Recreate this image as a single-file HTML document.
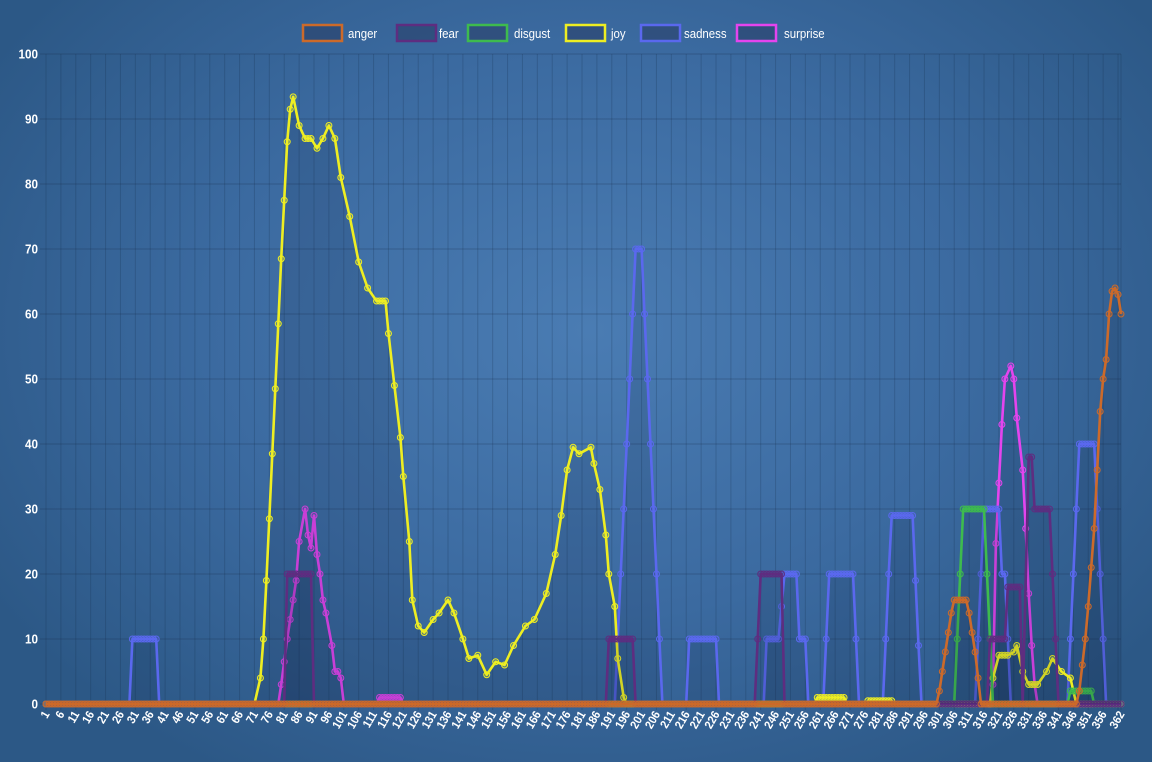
<!DOCTYPE html>
<html><head><meta charset="utf-8">
<style>
html,body{margin:0;padding:0;width:1152px;height:762px;overflow:hidden;
background:radial-gradient(ellipse 700px 520px at 590px 330px,#4a7cb3 0%,#3b6aa0 55%,#2c5886 100%);
font-family:"Liberation Sans",sans-serif;}
svg{position:absolute;left:0;top:0;}
</style></head><body>
<svg id="chart" width="1152" height="762" xmlns="http://www.w3.org/2000/svg"></svg>
<script>
const seriesNames=["anger","fear","disgust","joy","sadness","surprise"];
const colors={anger:"#cc6a2a",fear:"#5e2d80",disgust:"#3ebb4e",joy:"#eeee22",sadness:"#5a68ee",surprise:"#e444ee"};
const yTicks=[0,10,20,30,40,50,60,70,80,90,100];
const xLabels=[1,6,11,16,21,26,31,36,41,46,51,56,61,66,71,76,81,86,91,96,101,106,111,116,121,126,131,136,141,146,151,156,161,166,171,176,181,186,191,196,201,206,211,216,221,226,231,236,241,246,251,256,261,266,271,276,281,286,291,296,301,306,311,316,321,326,331,336,341,346,351,356,362];
const angerDays=[1,300,301,302,303,304,305,306,310,311,312,313,314,315,347,348,349,350,351,352,353,354,355,356,357,358,359,360,361,362];
const angerVals=[0,0,2,5,8,11,14,16,16,14,11,8,4,0,0,2,6,10,15,21,27,36,45,50,53,60,63.5,64,63,60];
const fearDays=[1,81,82,90,91,189,190,198,199,239,240,241,248,249,317,318,323,324,328,329,331,332,333,338,339,340,341,362];
const fearVals=[0,0,20,20,0,0,10,10,0,0,10,20,20,0,0,10,10,18,18,0,38,38,30,30,20,10,0,0];
const disgustDays=[1,306,307,308,309,316,317,318,319,344,345,352,353,362];
const disgustVals=[0,0,10,20,30,30,20,10,0,0,2,2,0,0];
const joyDays=[1,71,73,74,75,76,77,78,79,80,81,82,83,84,86,88,90,92,94,96,98,100,103,106,109,112,115,116,118,120,121,123,124,126,128,131,133,136,138,141,143,146,149,152,155,158,162,165,169,172,174,176,178,180,184,185,187,189,190,192,193,195,196,259,260,269,270,276,277,285,286,318,319,321,324,326,327,329,331,334,337,339,342,345,347,362];
const joyVals=[0,0,4,10,19,28.5,38.5,48.5,58.5,68.5,77.5,86.5,91.5,93.4,89,87,87,85.5,87,89,87,81,75,68,64,62,62,57,49,41,35,25,16,12,11,13,14,16,14,10,7,7.5,4.5,6.5,6,9,12,13,17,23,29,36,39.5,38.5,39.5,37,33,26,20,15,7,1,0,0,1,1,0,0,0.5,0.5,0,0,4,7.5,7.5,8,9,5,3,3,5,7,5,4,0,0];
const sadnessDays=[1,29,30,38,39,192,193,194,195,196,197,198,199,201,202,203,204,205,206,207,208,216,217,226,227,242,243,247,248,249,253,254,256,257,262,263,264,272,273,274,282,283,284,285,292,293,294,295,313,314,315,316,321,322,323,324,325,344,345,346,347,348,353,354,355,356,357,362];
const sadnessVals=[0,0,10,10,0,0,10,20,30,40,50,60,70,70,60,50,40,30,20,10,0,0,10,10,0,0,10,10,15,20,20,10,10,0,0,10,20,20,10,0,0,10,20,29,29,19,9,0,0,10,20,30,30,20,20,10,0,0,10,20,30,40,40,30,20,10,0,0];
const surpriseDays=[1,79,80,81,82,83,84,85,86,88,89,90,91,92,93,94,95,97,98,99,100,101,112,113,120,121,318,319,320,321,322,323,325,326,327,329,330,331,332,333,334,362];
const surpriseVals=[0,0,3,6.5,10,13,16,19,25,30,26,24,29,23,20,16,14,9,5,5,4,0,0,1,1,0,0,3,24.7,34,43,50,52,50,44,36,27,17,9,3,0,0];
const data={anger:[angerDays,angerVals],fear:[fearDays,fearVals],disgust:[disgustDays,disgustVals],joy:[joyDays,joyVals],sadness:[sadnessDays,sadnessVals],surprise:[surpriseDays,surpriseVals]};

const NS="http://www.w3.org/2000/svg";
const svg=document.getElementById('chart');
const L=46,R=1121,T=54,B=704,D0=1,D1=362;
function xs(d){return L+(d-D0)*(R-L)/(D1-D0);}
function ys(v){return B-v*(B-T)/100;}
function el(tag,attrs,parent){const e=document.createElementNS(NS,tag);for(const k in attrs)e.setAttribute(k,attrs[k]);(parent||svg).appendChild(e);return e;}

const grid=el('g',{});


for(let d=1;d<=362;d+=5){el('line',{x1:xs(d),x2:xs(d),y1:T,y2:B+6,stroke:'rgba(20,40,70,0.22)','stroke-width':1},grid);}
el('line',{x1:xs(362),x2:xs(362),y1:T,y2:B+6,stroke:'rgba(20,40,70,0.22)','stroke-width':1},grid);
yTicks.forEach(v=>{
  el('line',{x1:L-6,x2:R,y1:ys(v),y2:ys(v),stroke:'rgba(20,40,70,0.28)','stroke-width':1},grid);
  const t=el('text',{x:0,y:0,'text-anchor':'end',fill:'#fff','font-size':13,'font-weight':'bold',transform:`translate(${L-8},${ys(v)+4.5}) scale(0.9,1)`});
  t.textContent=v;
  
  
});
xLabels.forEach(d=>{
  const x=xs(d);
  const t=el('text',{x:0,y:0,'text-anchor':'end',fill:'#fff','font-size':12,'font-weight':'bold',transform:`translate(${x+4},${B+10}) rotate(-60) scale(0.9,1)`});
  t.textContent=d;
  
  
});

const order=["surprise","sadness","joy","disgust","fear","anger"];
order.forEach(name=>{
  const [days,vals]=data[name];
  const g=el('g',{});
  
  
  let pts=days.map((d,i)=>xs(d).toFixed(1)+','+ys(vals[i]).toFixed(1));
  const area=el('path',{d:'M'+xs(days[0])+','+B+' L'+pts.join(' L')+' L'+xs(days[days.length-1])+','+B+' Z',fill:'rgba(15,30,60,0.13)'},g);
  
  
  const line=el('polyline',{points:pts.join(' '),fill:'none',stroke:colors[name],'stroke-width':2.6,'stroke-linejoin':'round'},g);
  
  
  const mk=[];
  for(let i=0;i<days.length;i++){
    mk.push([days[i],vals[i]]);
    if(i<days.length-1&&vals[i]===vals[i+1]){for(let d=days[i]+1;d<days[i+1];d++)mk.push([d,vals[i]]);}
  }
  mk.forEach(([d,v])=>{
    const c=el('circle',{cx:xs(d),cy:ys(v),r:3,fill:colors[name],'fill-opacity':0.2,stroke:colors[name],'stroke-width':1},g);
    
    
  });
});

const legendX=[[302,348],[396,439],[467,514],[565,611],[640,684],[736,784]];
seriesNames.forEach((n,i)=>{
  const g=el('g',{});
  
  
  el('rect',{x:legendX[i][0]+1,y:25,width:39,height:16,fill:'rgba(40,60,100,0.55)',stroke:colors[n],'stroke-width':2.5},g);
  const t=el('text',{x:0,y:0,fill:'#fff','font-size':13,transform:`translate(${legendX[i][1]},38) scale(0.88,1)`},g);
  t.textContent=n;
});
</script>
</body></html>
